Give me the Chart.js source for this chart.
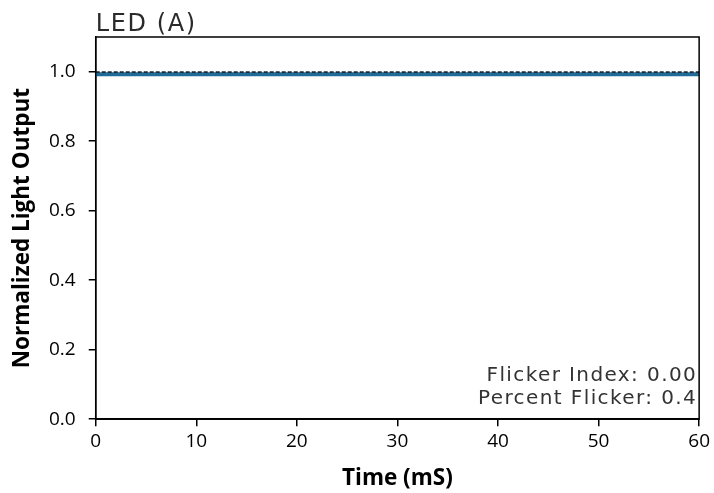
<!DOCTYPE html>
<html>
<head>
<meta charset="utf-8">
<script src="https://cdn.jsdelivr.net/npm/chart.js@4/dist/chart.umd.min.js"></script>
<style>
  html, body { margin: 0; padding: 0; background: #fff; }
  #wrap { width: 714px; height: 493px; }
</style>
</head>
<body>
<div id="wrap"><canvas id="grafico"></canvas></div>
<script>
// tiempo en milisegundos y salida de luz normalizada
const tiempo = [0, 10, 20, 30, 40, 50, 60];
const salidaLuz = [0.993, 0.993, 0.993, 0.993, 0.993, 0.993, 0.993];
const salidaMax = [0.999, 0.999, 0.999, 0.999, 0.999, 0.999, 0.999];

const ticksY = [0, 0.2, 0.4, 0.6, 0.8, 1.0];
const titulo = 'LED (A)';
const notas = ['Flicker Index: 0.00', 'Percent Flicker: 0.4'];

const color_linea = '#1f6a96';
const color_guion = '#1c2b3a';
const fuente_ejes = "'Open Sans', sans-serif";
const fuente_notas = "'DejaVu Sans', sans-serif";

// marco del área, título y notas de flicker
const marco = {
  id: 'marco',
  afterDraw(chart) {
    const { ctx, chartArea: a } = chart;
    ctx.save();
    ctx.strokeStyle = '#000';
    ctx.lineWidth = 1.5;
    ctx.strokeRect(a.left, a.top, a.right - a.left, a.bottom - a.top);

    ctx.fillStyle = '#2a2a2a';
    ctx.font = '24px ' + fuente_notas;
    ctx.letterSpacing = '1.6px';
    ctx.textAlign = 'left';
    ctx.textBaseline = 'alphabetic';
    ctx.fillText(titulo, a.left, 31);

    ctx.fillStyle = '#333';
    ctx.font = '20px ' + fuente_notas;
    ctx.letterSpacing = '1.4px';
    ctx.textAlign = 'right';
    ctx.fillText(notas[0], a.right - 2, a.bottom - 38);
    ctx.fillText(notas[1], a.right - 2, a.bottom - 15);
    ctx.restore();
  }
};

const graficoConfig = {
  type: 'line',
  data: {
    datasets: [
      {
        data: tiempo.map((t, i) => ({ x: t, y: salidaMax[i] })),
        borderColor: color_guion,
        borderWidth: 1.8,
        borderDash: [4, 2],
        pointRadius: 0,
        order: 0
      },
      {
        data: tiempo.map((t, i) => ({ x: t, y: salidaLuz[i] })),
        borderColor: color_linea,
        borderWidth: 4,
        pointRadius: 0,
        order: 1
      }
    ]
  },
  options: {
    responsive: true,
    maintainAspectRatio: false,
    animation: false,
    layout: { padding: { left: 9, right: 14, top: 37, bottom: 1 } },
    plugins: { legend: { display: false }, tooltip: { enabled: false } },
    scales: {
      x: {
        type: 'linear',
        min: 0, max: 60,
        ticks: { stepSize: 10, color: '#000', font: { family: fuente_ejes, size: 19 }, padding: 4 },
        grid: { drawOnChartArea: false, drawTicks: true, tickLength: 7, color: '#000', lineWidth: 1.5 },
        border: { color: '#000', width: 1.5 },
        title: { display: true, text: 'Time (mS)', color: '#000', font: { family: fuente_ejes, size: 22.5, weight: 'bold' }, padding: { top: 8, bottom: 0 } }
      },
      y: {
        min: 0, max: 1.1,
        afterBuildTicks: (scale) => { scale.ticks = ticksY.map(v => ({ value: v })); },
        ticks: { color: '#000', font: { family: fuente_ejes, size: 19 }, padding: 13, callback: (v) => v.toFixed(1) },
        grid: { drawOnChartArea: false, drawTicks: true, tickLength: 7, color: '#000', lineWidth: 1.5 },
        border: { color: '#000', width: 1.5 },
        title: { display: true, text: 'Normalized Light Output', color: '#000', font: { family: fuente_ejes, size: 22.5, weight: 'bold' }, padding: { top: 0, bottom: 0 } }
      }
    }
  },
  plugins: [marco]
};

new Chart(document.getElementById('grafico'), graficoConfig);
</script>
</body>
</html>
